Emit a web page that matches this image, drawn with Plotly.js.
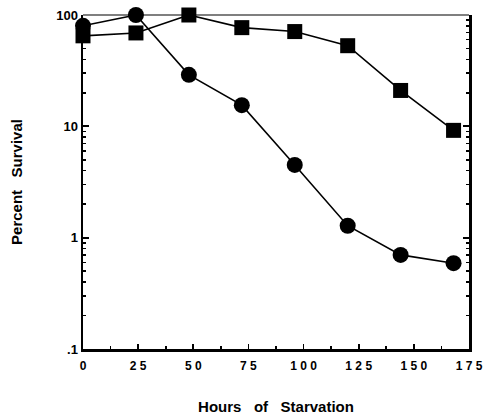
<!DOCTYPE html>
<html>
<head>
<meta charset="utf-8">
<script src="https://cdn.plot.ly/plotly-3.0.1.min.js"></script>
<style>html,body{margin:0;padding:0;background:#fff;}#chart{width:483px;height:415px;}</style>
</head>
<body>
<div id="chart"></div>
<script>
const hours = [0, 24, 48, 72, 96, 120, 144, 168];
const circleSurvival = [80, 100, 29, 15.5, 4.5, 1.28, 0.70, 0.59];
const squareSurvival = [65, 69, 100, 77, 71, 53, 21, 9.2];
const xTickVals = [0, 25, 50, 75, 100, 125, 150, 175];
const xTickText = ["0", "2 5", "5 0", "7 5", "1 0 0", "1 2 5", "1 5 0", "1 7 5"];
const yTickVals = [0.1, 1, 10, 100];
const yTickText = [".1", "1", "10", "100"];
const yMinorVals = [0.2,0.3,0.4,0.5,0.6,0.7,0.8,0.9, 2,3,4,5,6,7,8,9, 20,30,40,50,60,70,80,90];

const font = "Liberation Sans, Arial, sans-serif";
const traces = [
  {x: hours, y: squareSurvival, mode: "lines+markers", type: "scatter",
   line: {color: "#000", width: 1.6}, marker: {symbol: "square", size: 15, color: "#000"}, cliponaxis: false},
  {x: hours, y: circleSurvival, mode: "lines+markers", type: "scatter",
   line: {color: "#000", width: 1.6}, marker: {symbol: "circle", size: 16, color: "#000"}, cliponaxis: false}
];
const layout = {
  width: 483, height: 415,
  margin: {l: 83, r: 14, t: 15, b: 66},
  paper_bgcolor: "#fff", plot_bgcolor: "#fff",
  showlegend: false,
  font: {family: font, color: "#000"},
  xaxis: {
    range: [0, 175], tickvals: xTickVals, ticktext: xTickText,
    ticks: "inside", ticklen: 5, tickwidth: 1.8, tickcolor: "#000",
    minor: {dtick: 12.5, tick0: 0, ticks: "inside", ticklen: 3, tickwidth: 1.8, tickcolor: "#000"},
    showline: true, linewidth: 2.5, linecolor: "#000", mirror: false,
    showgrid: false, zeroline: false, ticklabelstandoff: 4,
    tickfont: {family: font, size: 12, weight: "bold"},
    title: {text: "Hours\u00a0\u00a0 of\u00a0\u00a0 Starvation", font: {family: font, size: 15, weight: "bold"}, standoff: 34}
  },
  yaxis: {
    type: "log", range: [-1, 2], tickvals: yTickVals, ticktext: yTickText,
    ticks: "inside", ticklen: 6, tickwidth: 1.8, tickcolor: "#000",
    minor: {tickvals: yMinorVals, ticks: "inside", ticklen: 3, tickwidth: 1.5, tickcolor: "#000"},
    showline: true, linewidth: 2.5, linecolor: "#000", mirror: "ticks",
    showgrid: false, zeroline: false,
    tickfont: {family: font, size: 13, weight: "bold"},
    title: {text: "Percent\u00a0\u00a0 Survival", font: {family: font, size: 15, weight: "bold"}, standoff: 30}
  },
  shapes: [
    {type: "line", xref: "paper", yref: "paper", x0: 0, x1: 1, y0: 1, y1: 1, line: {color: "#000", width: 1.2}}
  ]
};
Plotly.newPlot("chart", traces, layout, {staticPlot: true, displayModeBar: false});
</script>
</body>
</html>
